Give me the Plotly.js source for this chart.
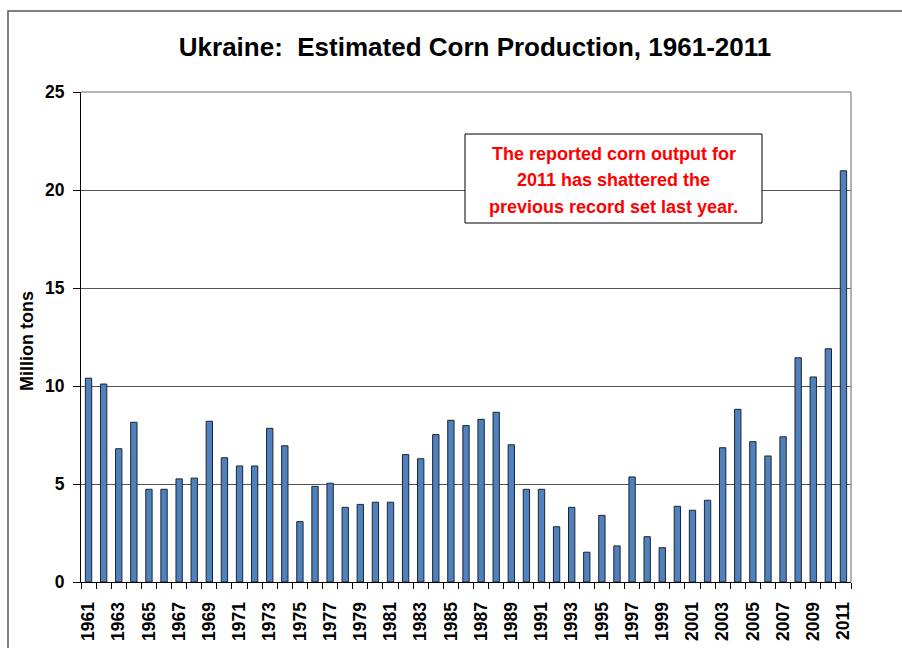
<!DOCTYPE html>
<html>
<head>
<meta charset="utf-8">
<script src="https://cdn.plot.ly/plotly-3.0.1.min.js"></script>
<style>
html,body{margin:0;padding:0;background:#fff;}
#chart{width:902px;height:648px;}
</style>
</head>
<body>
<div id="chart"></div>
<script>
const years = [1961,1962,1963,1964,1965,1966,1967,1968,1969,1970,
  1971,1972,1973,1974,1975,1976,1977,1978,1979,1980,
  1981,1982,1983,1984,1985,1986,1987,1988,1989,1990,
  1991,1992,1993,1994,1995,1996,1997,1998,1999,2000,
  2001,2002,2003,2004,2005,2006,2007,2008,2009,2010,2011];
const production = [10.4,10.1,6.8,8.15,4.73,4.73,5.26,5.3,8.2,6.34,
  5.92,5.92,7.84,6.95,3.08,4.88,5.04,3.81,3.96,4.07,
  4.07,6.5,6.29,7.52,8.25,7.98,8.3,8.66,7.0,4.73,
  4.73,2.82,3.81,1.52,3.40,1.84,5.36,2.31,1.75,3.86,
  3.66,4.17,6.85,8.81,7.16,6.43,7.41,11.44,10.46,11.9,20.98];
const tickYears = [1961,1963,1965,1967,1969,1971,1973,1975,1977,1979,1981,1983,1985,
  1987,1989,1991,1993,1995,1997,1999,2001,2003,2005,2007,2009,2011];
const tickLabels = tickYears.map(String);
const titleText = "Ukraine:  Estimated Corn Production, 1961-2011";
const yTitle = "Million tons";
const noteLines = ["The reported corn output for", "2011 has shattered the", "previous record set last year."];

// pixel geometry helpers (plot area: x 81..851, y 92..582)
const L = 81, R = 851, T = 92, B = 582;
const px = x => (x - L) / (R - L);
const py = y => (B - y) / (B - T);

const boundaries = years.map(y => y - 0.5).concat([years[years.length-1] + 0.5]);

const FONT = "Liberation Sans, Arial, sans-serif";

const trace = {
  type: 'bar',
  x: years,
  y: production,
  width: 0.42,
  marker: {color: '#4F81BD', line: {color: '#1c2433', width: 1}},
  hoverinfo: 'x+y'
};

const shapes = [
  {type:'path', xref:'paper', yref:'paper',
   path:`M ${px(8)},${py(648)} L ${px(8)},${py(11)} L ${px(902)},${py(11)}`,
   line:{color:'#555', width:1.5}},
  {type:'line', xref:'paper', yref:'paper', x0:0, x1:1, y0:1, y1:1, line:{color:'#999', width:1.5}},
  {type:'line', xref:'paper', yref:'paper', x0:1, x1:1, y0:0, y1:1, line:{color:'#999', width:1.5}},
  {type:'rect', xref:'paper', yref:'paper', x0:px(465), x1:px(762), y0:py(223), y1:py(134),
   fillcolor:'#fff', line:{color:'#000', width:1}}
];

const noteY = [154, 180.5, 207];
const annotations = noteLines.map((t, i) => ({
  xref:'paper', yref:'paper', x:px(613.5), y:py(noteY[i]), xanchor:'center', yanchor:'middle',
  text:t, showarrow:false, font:{family:FONT, size:18, color:'#FF0000', weight:'bold'}
}));
annotations.push({
  xref:'paper', yref:'paper', x:px(27), y:py(341), xanchor:'center', yanchor:'middle',
  text:yTitle, textangle:-90, showarrow:false,
  font:{family:FONT, size:18, color:'#000', weight:'bold'}
});

const layout = {
  width: 902, height: 648,
  margin: {l: L, r: 902 - R, t: T, b: 648 - B, pad: 0},
  paper_bgcolor: '#fff', plot_bgcolor: '#fff',
  showlegend: false,
  title: {text: titleText, xref:'container', yref:'container', x: 475/902, xanchor:'center',
          y: 1 - 47/648, yanchor:'middle',
          font:{family:FONT, size:26, color:'#000', weight:'bold'}},
  xaxis: {
    type:'linear', range:[1960.5, 2011.5],
    tickmode:'array', tickvals: tickYears, ticktext: tickLabels,
    tickangle:-90, ticks:'', ticklabelstandoff: 12,
    tickfont:{family:FONT, size:17.5, color:'#000', weight:'bold'},
    showgrid:false, zeroline:false,
    showline:true, linecolor:'#000', linewidth:1,
    minor:{tickmode:'array', tickvals: boundaries, ticks:'outside', ticklen:6, tickcolor:'#000', tickwidth:1, showgrid:false},
    fixedrange:true
  },
  yaxis: {
    range:[0,25], tickmode:'linear', tick0:0, dtick:5,
    ticks:'outside', ticklen:7, tickcolor:'#000', tickwidth:1,
    tickfont:{family:FONT, size:17.5, color:'#000', weight:'bold'},
    ticklabelstandoff: 5,
    showgrid:true, gridcolor:'#555', gridwidth:1,
    zeroline:false, showline:true, linecolor:'#000', linewidth:1,
    fixedrange:true
  },
  shapes: shapes,
  annotations: annotations
};

Plotly.newPlot('chart', [trace], layout, {displayModeBar:false, staticPlot:true});
</script>
</body>
</html>
